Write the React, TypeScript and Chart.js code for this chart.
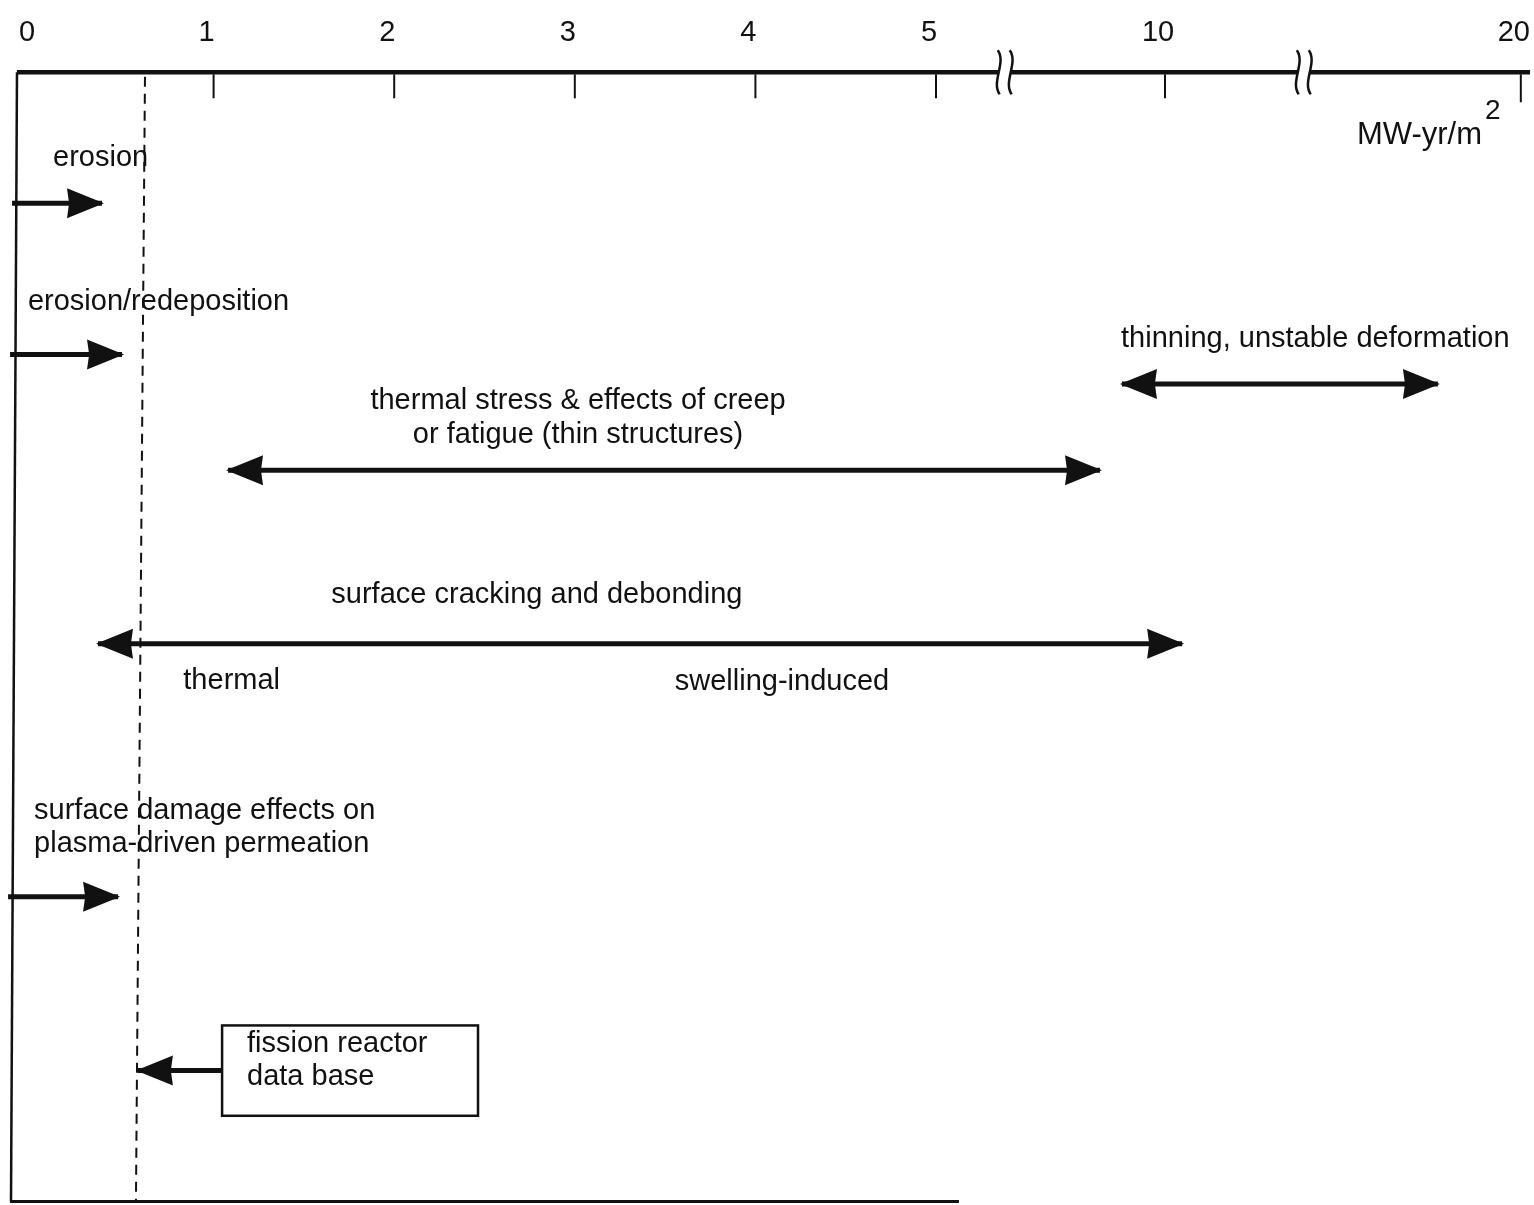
import { useEffect, useRef } from 'react';
import { Chart, registerables } from 'chart.js';

Chart.register(...registerables);

// ---- axis (fluence, MW-yr/m^2) ----
const tickValues = [0, 1, 2, 3, 4, 5, 10, 20];
const tickLabels = ['0', '1', '2', '3', '4', '5', '10', '20'];
const axisBreaks = [6.5, 13.9];
const axisStart = -0.089;
const axisEnd = 20.26;
const unitText = 'MW-yr/m';
const unitSup = '2';
const unitX = 18.91;
const unitLane = 5.6;

// ---- effect arrows (fluence from -> to, lane = vertical row) ----
const effectNames = [
  'erosion',
  'erosion/redeposition',
  'thinning, unstable deformation',
  'thermal stress & creep/fatigue',
  'surface cracking and debonding',
  'surface damage effects on permeation',
  'fission reactor data base',
];
const effectFrom = [-0.116, -0.127, 9.06, 1.08, 0.36, -0.138, 1.047];
const effectTo = [0.382, 0.493, 17.67, 8.58, 10.48, 0.471, 0.581];
const effectLane = [11.6, 25.0, 27.6, 35.25, 50.6, 73.0, 88.4];
const effectBothEnds = [false, false, true, true, true, false, false];

// ---- fission data base limit (dashed) ----
const fissionLimit = [0.62, 0.57];
const frameLeft = [-0.0886, -0.1218];
const frameLanes = [0, 100];
const bottomLine = [-0.127, 5.5];

// ---- annotations ----
const noteTexts = [
  'erosion',
  'erosion/redeposition',
  'thinning, unstable deformation',
  'thermal stress & effects of creep',
  'or fatigue (thin structures)',
  'surface cracking and debonding',
  'thermal',
  'swelling-induced',
  'surface damage effects on',
  'plasma-driven permeation',
  'fission reactor',
  'data base',
];
const noteX = [0.111, -0.028, 9.04, 3.018, 3.018, 2.79, 1.1, 4.147, 0.006, 0.006, 1.185, 1.185];
const noteLane = [7.6, 20.3, 23.6, 29.1, 32.1, 46.3, 53.9, 54.0, 65.4, 68.3, 86.0, 89.0];
const noteAlign = ['left', 'left', 'left', 'center', 'center', 'center', 'center', 'center', 'left', 'left', 'left', 'left'];

const boxX = [1.047, 2.464];
const boxLanes = [84.4, 92.4];
const tickLabelLane = -3.5;

// piecewise axis with breaks between 5-10 and 10-20
function axisPos(v: number): number {
  if (v <= 5) return v;
  if (v <= 10) return 5 + (v - 5) * 0.2536;
  return 5 + 5 * 0.2536 + (v - 10) * 0.197;
}

const FONT = '"Liberation Sans", Arial, Helvetica, sans-serif';
const INK = '#111';

const diagramPlugin = {
  id: 'diagram',
  beforeDraw(chart: any) {
    const { ctx } = chart;
    ctx.save();
    ctx.fillStyle = '#fff';
    ctx.fillRect(0, 0, chart.width, chart.height);
    ctx.restore();
  },
  afterDatasetsDraw(chart: any) {
    const { ctx } = chart;
    const xs = chart.scales.x;
    const ys = chart.scales.y;
    const px = (v: number) => xs.getPixelForValue(axisPos(v));
    const py = (l: number) => ys.getPixelForValue(l);

    ctx.save();
    ctx.fillStyle = INK;
    ctx.strokeStyle = INK;

    // arrowheads
    const head = (tx: number, ty: number, fx: number, fy: number) => {
      const a = Math.atan2(ty - fy, tx - fx);
      const L = 35, W = 15;
      ctx.beginPath();
      ctx.moveTo(tx + Math.cos(a) * 2, ty + Math.sin(a) * 2);
      ctx.lineTo(tx - Math.cos(a) * L - Math.sin(a) * W, ty - Math.sin(a) * L + Math.cos(a) * W);
      ctx.lineTo(tx - Math.cos(a) * L * 0.94, ty - Math.sin(a) * L * 0.94);
      ctx.lineTo(tx - Math.cos(a) * L + Math.sin(a) * W, ty - Math.sin(a) * L - Math.cos(a) * W);
      ctx.closePath();
      ctx.fill();
    };
    effectNames.forEach((_, i) => {
      const meta = chart.getDatasetMeta(i);
      const p0 = meta.data[0];
      const p1 = meta.data[1];
      head(p1.x, p1.y, p0.x, p0.y);
      if (effectBothEnds[i]) head(p0.x, p0.y, p1.x, p1.y);
    });

    // top axis with breaks
    const ay = py(0);
    const bpx = axisBreaks.map(px);
    const segs = [px(axisStart), bpx[0] - 6, bpx[0] + 6, bpx[1] - 6, bpx[1] + 6, px(axisEnd)];
    ctx.lineWidth = 4.5;
    ctx.lineCap = 'butt';
    for (let s = 0; s < segs.length; s += 2) {
      ctx.beginPath();
      ctx.moveTo(segs[s], ay);
      ctx.lineTo(segs[s + 1], ay);
      ctx.stroke();
    }
    ctx.lineWidth = 2.5;
    bpx.forEach((bx) => {
      [bx - 6, bx + 6].forEach((sx) => {
        ctx.beginPath();
        ctx.moveTo(sx - 1, ay - 22);
        ctx.bezierCurveTo(sx + 8, ay - 10, sx - 8, ay + 10, sx + 1, ay + 22);
        ctx.stroke();
      });
    });

    // ticks and labels
    ctx.lineWidth = 2;
    ctx.font = `29px ${FONT}`;
    ctx.textAlign = 'center';
    ctx.textBaseline = 'middle';
    tickValues.forEach((v, i) => {
      const tx = px(v);
      if (v > 0) {
        ctx.beginPath();
        ctx.moveTo(tx, ay + 2);
        ctx.lineTo(tx, ay + (v === 20 ? 30 : 26));
        ctx.stroke();
      }
      ctx.fillText(tickLabels[i], v === 0 ? tx - 6 : tx - 7, py(tickLabelLane));
    });

    // unit
    ctx.font = `31px ${FONT}`;
    ctx.textAlign = 'right';
    const ux = px(unitX);
    ctx.fillText(unitText, ux, py(unitLane));
    ctx.textAlign = 'left';
    ctx.font = `28px ${FONT}`;
    ctx.fillText(unitSup, ux + 3, py(unitLane) - 24);

    // notes
    ctx.font = `29px ${FONT}`;
    noteTexts.forEach((t, i) => {
      ctx.textAlign = noteAlign[i] as CanvasTextAlign;
      ctx.fillText(t, px(noteX[i]), py(noteLane[i]));
    });

    // fission box
    ctx.lineWidth = 2.5;
    const bx0 = px(boxX[0]);
    const bx1 = px(boxX[1]);
    const by0 = py(boxLanes[0]);
    const by1 = py(boxLanes[1]);
    ctx.strokeRect(bx0, by0, bx1 - bx0, by1 - by0);

    ctx.restore();
  },
};

export default function App() {
  const canvasRef = useRef<HTMLCanvasElement | null>(null);

  useEffect(() => {
    if (!canvasRef.current) return;
    const effectSets = effectNames.map((name, i) => ({
      label: name,
      data: [
        { x: axisPos(effectFrom[i]), y: effectLane[i] },
        { x: axisPos(effectTo[i]), y: effectLane[i] },
      ],
      borderColor: INK,
      borderWidth: 5,
      pointRadius: 0,
      clip: false as any,
    }));
    const chart = new Chart(canvasRef.current, {
      type: 'line',
      data: {
        datasets: [
          ...effectSets,
          {
            label: 'fission data limit',
            data: [
              { x: axisPos(fissionLimit[0]), y: frameLanes[0] + 0.4 },
              { x: axisPos(fissionLimit[1]), y: frameLanes[1] },
            ],
            borderColor: INK,
            borderWidth: 2,
            borderDash: [10, 7],
            pointRadius: 0,
            clip: false as any,
          },
          {
            label: 'frame left',
            data: [
              { x: axisPos(frameLeft[0]), y: frameLanes[0] },
              { x: axisPos(frameLeft[1]), y: frameLanes[1] },
            ],
            borderColor: INK,
            borderWidth: 2.5,
            pointRadius: 0,
            clip: false as any,
          },
          {
            label: 'frame bottom',
            data: [
              { x: axisPos(bottomLine[0]), y: frameLanes[1] },
              { x: axisPos(bottomLine[1]), y: frameLanes[1] },
            ],
            borderColor: INK,
            borderWidth: 3,
            pointRadius: 0,
            clip: false as any,
          },
        ],
      },
      options: {
        responsive: false,
        animation: false,
        devicePixelRatio: 1,
        events: [],
        layout: { padding: 0 },
        plugins: {
          legend: { display: false },
          tooltip: { enabled: false },
          title: { display: false },
        },
        scales: {
          x: { type: 'linear', display: false, min: -0.1827, max: 8.311 },
          y: { type: 'linear', display: false, reverse: true, min: -6.4, max: 100.3 },
        },
      },
      plugins: [diagramPlugin],
    });
    return () => chart.destroy();
  }, []);

  return (
    <div style={{ position: 'absolute', left: 0, top: 0, width: 1534, height: 1205, background: '#fff' }}>
      <canvas ref={canvasRef} width={1534} height={1205} />
    </div>
  );
}
